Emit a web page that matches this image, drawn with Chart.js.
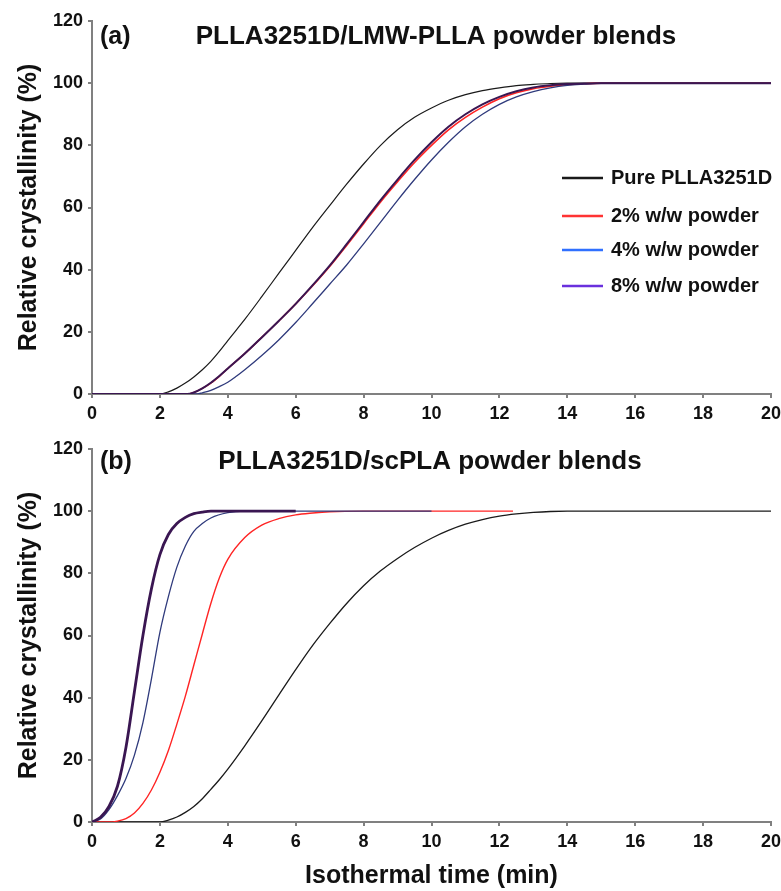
<!DOCTYPE html>
<html>
<head>
<meta charset="utf-8">
<script src="https://cdn.jsdelivr.net/npm/chart.js@4.4.0/dist/chart.umd.min.js"></script>
<style>
html,body{margin:0;padding:0;background:#fff;}
#wrapA{position:absolute;left:0;top:0;width:781px;height:420px;}
#wrapB{position:absolute;left:0;top:420px;width:781px;height:471px;}
</style>
</head>
<body>
<div id="wrapA"><canvas id="cA" width="781" height="420"></canvas></div>
<div id="wrapB"><canvas id="cB" width="781" height="471"></canvas></div>
<script>
// ---------- DATA ----------
const seriesNames = ["Pure PLLA3251D", "2% w/w powder", "4% w/w powder", "8% w/w powder"];
const xTicks = [0,2,4,6,8,10,12,14,16,18,20];
const yTicks = [0,20,40,60,80,100,120];

// (a) PLLA3251D/LMW-PLLA powder blends
const aPureT   = [0,2,2.25,2.5,2.75,3,3.25,3.5,3.75,4,4.5,5,5.5,6,6.5,7,7.5,8,8.5,9,9.5,10,10.5,11,11.5,12,12.5,13,13.5,14,20];
const aPureV   = [0,0,0.7,1.9,3.5,5.5,7.8,10.5,13.7,17.2,24,31.3,38.8,46.2,53.6,60.6,67.5,74,80,85,89,92,94.5,96.3,97.6,98.5,99.2,99.6,99.9,100,100];
const aRedT    = [0,2.8,3,3.25,3.5,3.75,4,4.5,5,5.5,6,6.5,7,7.5,8,8.5,9,9.5,10,10.5,11,11.5,12,12.5,13,13.5,14,14.5,15,20];
const aRedV    = [0,0,0.5,1.8,3.5,5.7,8.2,13,18.2,23.5,29,34.8,41,47.8,54.8,61.8,68.3,74.5,80,85,89,92.3,95,96.9,98.2,99,99.5,99.8,100,100];
const aBlueT   = [0,3.1,3.25,3.5,3.75,4,4.25,4.5,5,5.5,6,6.5,7,7.5,8,8.5,9,9.5,10,10.5,11,11.5,12,12.5,13,13.5,14,14.5,15,20];
const aBlueV   = [0,0,0.4,1.2,2.4,3.8,5.7,7.8,12.4,17.4,23,29.1,35.3,41.5,48.3,55.3,62.3,69,75.3,81,86,90,93.2,95.6,97.3,98.5,99.3,99.7,100,100];
const aPurpleT = [0,2.8,3,3.25,3.5,3.75,4,4.5,5,5.5,6,6.5,7,7.5,8,8.5,9,9.5,10,10.5,11,11.5,12,12.5,13,13.5,14,14.5,15,20];
const aPurpleV = [0,0,0.5,1.8,3.6,5.8,8.2,13,18.2,23.5,29,35,41.3,48.2,55.3,62.4,69,75.3,81,86,90,93.2,95.6,97.4,98.6,99.3,99.7,99.9,100,100];

// (b) PLLA3251D/scPLA powder blends
const bPureT   = [0,2,2.25,2.5,2.75,3,3.25,3.5,3.75,4,4.5,5,5.5,6,6.5,7,7.5,8,8.5,9,9.5,10,10.5,11,11.5,12,12.5,13,13.5,14,20];
const bPureV   = [0,0,0.6,1.6,3.1,5,7.5,10.5,13.6,17,24.5,32.5,40.8,49,56.8,63.8,70.3,76,80.8,84.8,88.3,91.3,93.8,95.8,97.3,98.4,99.1,99.6,99.9,100,100];
const bRedT    = [0,0.5,0.75,1,1.25,1.5,1.75,2,2.25,2.5,2.75,3,3.25,3.5,3.75,4,4.5,5,5.5,6,6.5,7,8,10,12.4];
const bRedV    = [0,0,0.3,1.1,2.9,6,10.3,16,23,31.5,40.5,50.5,60.5,70.3,78.5,84.5,91.5,95.5,97.6,98.8,99.4,99.8,100,100,100];
const bBlueT   = [0,0.25,0.5,0.75,1,1.25,1.5,1.75,2,2.25,2.5,2.75,3,3.25,3.5,4,4.5,5,6,8,10];
const bBlueV   = [0,1,4,8.5,14,21.5,32,46,61,72.5,82,88.8,93.5,96,97.8,99.5,100,100,100,100,100];
const bPurpleT = [0,0.25,0.5,0.75,1,1.25,1.5,1.75,2,2.25,2.5,2.75,3,3.25,3.5,4,5,6];
const bPurpleV = [0,1.5,5,11.5,24,42,60,75,86,92.5,96,98,99.2,99.7,100,100,100,100];

// ---------- STYLE ----------
const FONT = '"Liberation Sans", Arial, Helvetica, sans-serif';
const lineColors   = ['#1a1a1a', '#ff2424', '#2f3a7c', '#3a1652'];
const legendColors = ['#1a1a1a', '#ff3333', '#3070ff', '#6a30dd'];
const AXIS = '#808080';

function pts(t, v){ return t.map((x,i)=>({x:x, y:v[i]})); }

const annotPlugin = {
  id: 'annot',
  afterDraw(chart, args, o){
    const ctx = chart.ctx, a = chart.chartArea;
    ctx.save();
    ctx.fillStyle = '#111';
    ctx.textBaseline = 'middle';
    ctx.font = 'bold 25px ' + FONT;
    ctx.textAlign = 'left';
    ctx.fillText(o.tag, a.left + 8, a.top + o.dy);
    ctx.textAlign = 'center';
    ctx.font = 'bold 26px ' + FONT;
    ctx.fillText(o.title, o.cx, a.top + o.dy);
    if (o.legend){
      ctx.font = 'bold 20px ' + FONT;
      ctx.textAlign = 'left';
      const rows = [178, 216, 250, 286];
      seriesNames.forEach((n,i)=>{
        ctx.strokeStyle = legendColors[i];
        ctx.lineWidth = 2.5;
        ctx.beginPath();
        ctx.moveTo(562, rows[i]); ctx.lineTo(603, rows[i]);
        ctx.stroke();
        ctx.fillStyle = '#111';
        ctx.fillText(n, 611, rows[i]);
      });
    }
    ctx.restore();
  }
};

function makeChart(id, sets, opt){
  const widths = opt.widths;
  const ds = sets.map((s,i)=>({
    label: seriesNames[i],
    data: pts(s[0], s[1]),
    borderColor: lineColors[i],
    backgroundColor: lineColors[i],
    borderWidth: widths[i],
    pointRadius: 0,
    fill: false,
    cubicInterpolationMode: 'monotone',
    order: 3 - i
  }));
  return new Chart(document.getElementById(id), {
    type: 'line',
    data: { datasets: ds },
    plugins: [annotPlugin],
    options: {
      responsive: false,
      animation: false,
      events: [],
      layout: { padding: { top: opt.padTop, right: 10, left: 0, bottom: 0 } },
      plugins: {
        legend: { display: false },
        tooltip: { enabled: false },
        annot: opt.annot
      },
      scales: {
        x: {
          type: 'linear', min: 0, max: 20,
          afterBuildTicks: s => { s.ticks = xTicks.map(v=>({value:v})); },
          afterFit: s => { s.height = opt.xHeight; s.paddingRight = 0; },
          grid: { drawOnChartArea: false, drawTicks: true, tickLength: 4, color: AXIS, lineWidth: 2 },
          border: { display: true, color: AXIS, width: 2 },
          ticks: { color: '#111', font: { family: FONT, size: 18, weight: 'bold' }, padding: 5, maxRotation: 0, autoSkip: false },
          title: {
            display: opt.xTitle, text: 'Isothermal time (min)', color: '#111',
            font: { family: FONT, size: 25, weight: 'bold' }, padding: { top: 4, bottom: 0 }
          }
        },
        y: {
          min: 0, max: 120,
          afterBuildTicks: s => { s.ticks = yTicks.map(v=>({value:v})); },
          afterFit: s => { s.width = 92; },
          grid: { drawOnChartArea: false, drawTicks: true, tickLength: 4, color: AXIS, lineWidth: 2 },
          border: { display: true, color: AXIS, width: 2 },
          ticks: { color: '#111', font: { family: FONT, size: 18, weight: 'bold' }, padding: 5 },
          title: {
            display: true, text: 'Relative crystallinity (%)', color: '#111',
            font: { family: FONT, size: 25, weight: 'bold' }, padding: { top: 14, bottom: 0 }
          }
        }
      }
    }
  });
}

makeChart('cA',
  [[aPureT,aPureV],[aRedT,aRedV],[aBlueT,aBlueV],[aPurpleT,aPurpleV]],
  { widths: [1.2, 1.6, 1.3, 2.0], padTop: 21, xHeight: 26, xTitle: false,
    annot: { tag: '(a)', title: 'PLLA3251D/LMW-PLLA powder blends', cx: 436, dy: 16, legend: true } });

makeChart('cB',
  [[bPureT,bPureV],[bRedT,bRedV],[bBlueT,bBlueV],[bPurpleT,bPurpleV]],
  { widths: [1.3, 1.4, 1.3, 2.8], padTop: 29, xHeight: 69, xTitle: true,
    annot: { tag: '(b)', title: 'PLLA3251D/scPLA powder blends', cx: 430, dy: 13, legend: false } });
</script>
</body>
</html>
